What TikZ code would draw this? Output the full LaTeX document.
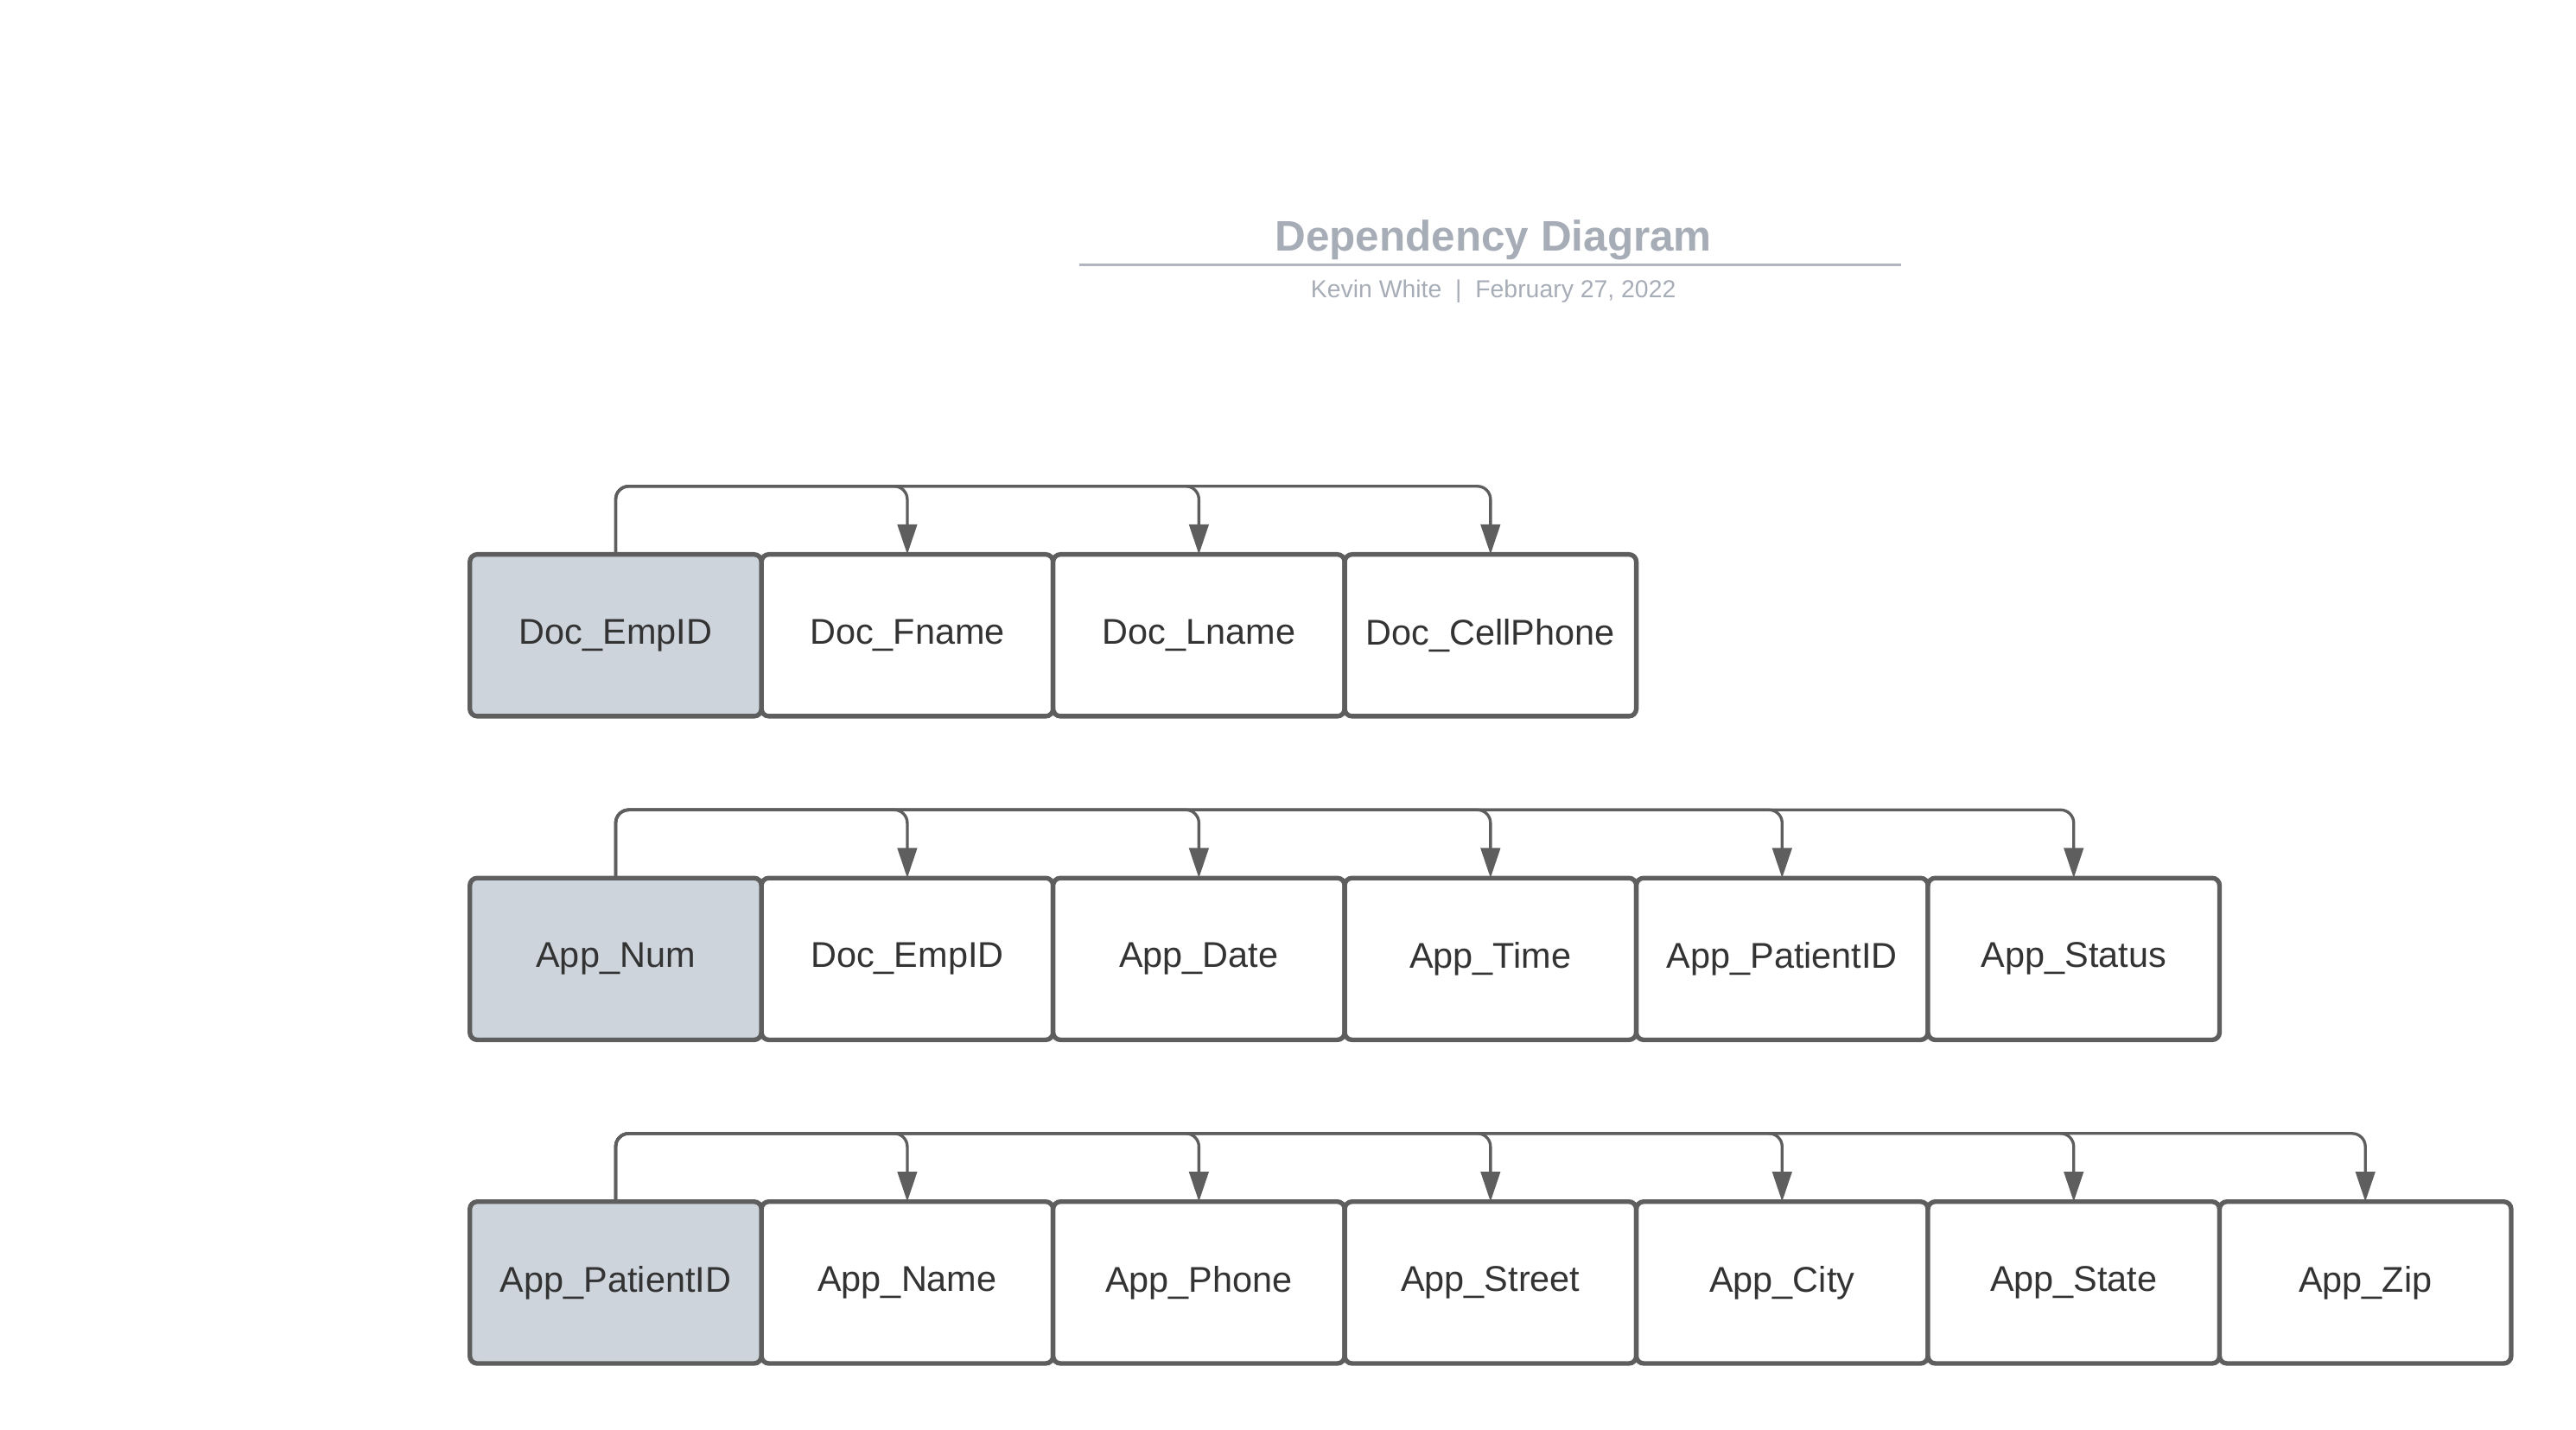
\documentclass[tikz,border=0pt]{standalone}
\usepackage{fontspec}
\setmainfont{Liberation Sans}
\usetikzlibrary{arrows.meta, positioning}
\definecolor{linegray}{HTML}{5E5E5E}
\definecolor{keyfill}{HTML}{CDD4DC}
\definecolor{titlegray}{HTML}{A7ADB7}
\definecolor{textdark}{HTML}{333333}
\tikzstyle{attr} = [
	rectangle,
	rounded corners=0.09cm,
	minimum width=3.55cm,
	minimum height=1.97cm,
	inner sep=0pt,
	outer sep=0pt,
	text centered,
	draw=linegray,
	line width=1.6pt,
	fill=white,
	text=textdark,
	font=\fontsize{12.4}{14}\selectfont
]
\tikzstyle{keyattr} = [
	attr,
	fill=keyfill
]
\tikzstyle{arrow} = [
	draw=linegray,
	line width=1pt,
	rounded corners=0.16cm,
	-{Triangle[length=0.365cm,width=0.235cm]}
]
\begin{document}
\begin{tikzpicture}[node distance=0cm]

		\useasboundingbox (0,0) rectangle (31.36,-17.40);

		\node (title) [font=\fontsize{14.8}{16}\selectfont\bfseries, text=titlegray, anchor=base] at (18.18,-3.06) {Dependency Diagram};
		\draw [titlegray!90, line width=0.9pt] (13.14,-3.22) -- (23.14,-3.22);
		\node (byline) [font=\fontsize{8.5}{10}\selectfont, text=titlegray, anchor=base] at (18.18,-3.62) {Kevin White\ \ |\ \ February 27, 2022};

		% doctor
		\node (docempid) [keyattr, anchor=north west] at (5.72,-6.75) {Doc\_EmpID};
		\node (docfname) [attr, right=of docempid] {Doc\_Fname};
		\node (doclname) [attr, right=of docfname] {Doc\_Lname};
		\node (doccell) [attr, right=of doclname] {Doc\_CellPhone};

		% appointment
		\node (appnum) [keyattr, anchor=north west] at (5.72,-10.69) {App\_Num};
		\node (appdocempid) [attr, right=of appnum] {Doc\_EmpID};
		\node (appdate) [attr, right=of appdocempid] {App\_Date};
		\node (apptime) [attr, right=of appdate] {App\_Time};
		\node (apppatid) [attr, right=of apptime] {App\_PatientID};
		\node (appstatus) [attr, right=of apppatid] {App\_Status};

		% patient
		\node (patid) [keyattr, anchor=north west] at (5.72,-14.63) {App\_PatientID};
		\node (patname) [attr, right=of patid] {App\_Name};
		\node (patphone) [attr, right=of patname] {App\_Phone};
		\node (patstreet) [attr, right=of patphone] {App\_Street};
		\node (patcity) [attr, right=of patstreet] {App\_City};
		\node (patstate) [attr, right=of patcity] {App\_State};
		\node (patzip) [attr, right=of patstate] {App\_Zip};

		\draw [arrow] (docempid.north) -- ++(0,0.83) -| (docfname.north);
		\draw [arrow] (docempid.north) -- ++(0,0.83) -| (doclname.north);
		\draw [arrow] (docempid.north) -- ++(0,0.83) -| (doccell.north);

		\draw [arrow] (appnum.north) -- ++(0,0.83) -| (appdocempid.north);
		\draw [arrow] (appnum.north) -- ++(0,0.83) -| (appdate.north);
		\draw [arrow] (appnum.north) -- ++(0,0.83) -| (apptime.north);
		\draw [arrow] (appnum.north) -- ++(0,0.83) -| (apppatid.north);
		\draw [arrow] (appnum.north) -- ++(0,0.83) -| (appstatus.north);

		\draw [arrow] (patid.north) -- ++(0,0.83) -| (patname.north);
		\draw [arrow] (patid.north) -- ++(0,0.83) -| (patphone.north);
		\draw [arrow] (patid.north) -- ++(0,0.83) -| (patstreet.north);
		\draw [arrow] (patid.north) -- ++(0,0.83) -| (patcity.north);
		\draw [arrow] (patid.north) -- ++(0,0.83) -| (patstate.north);
		\draw [arrow] (patid.north) -- ++(0,0.83) -| (patzip.north);

	\end{tikzpicture}
\end{document}
